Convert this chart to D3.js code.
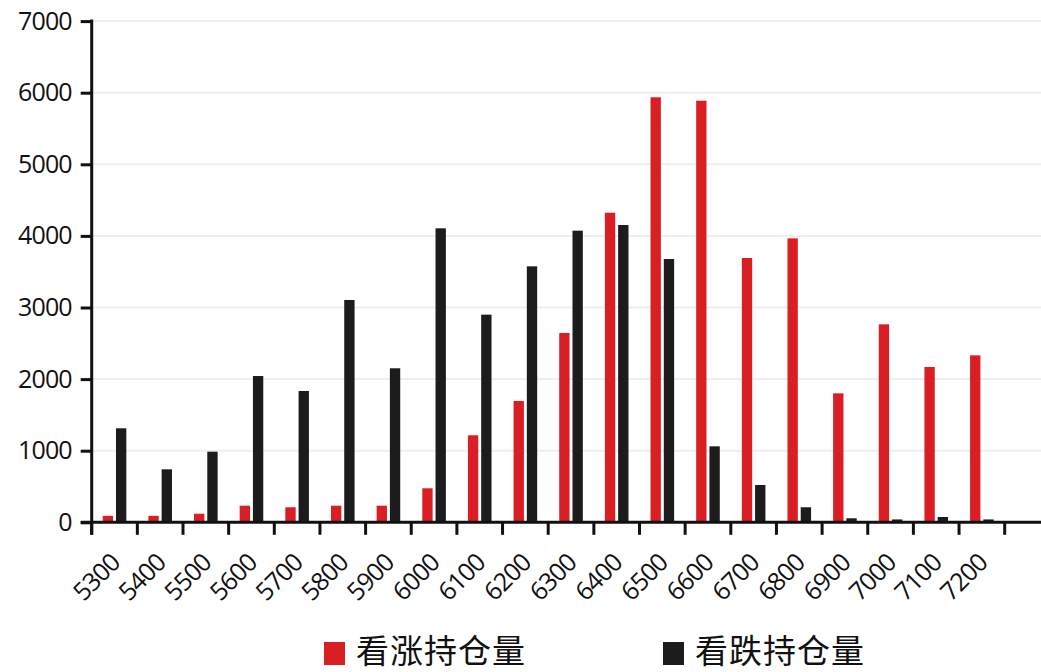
<!DOCTYPE html>
<html>
<head>
<meta charset="utf-8">
<script src="https://cdn.jsdelivr.net/npm/d3@7"></script>
<style>
  html, body { margin: 0; padding: 0; background: #fff; }
  svg { display: block; }
  text { font-family: "Open Sans", "Noto Sans", sans-serif; fill: #111; }
</style>
</head>
<body>
<svg id="chart" width="1041" height="672"></svg>
<script>
const categories = ["5300","5400","5500","5600","5700","5800","5900","6000","6100","6200","6300","6400","6500","6600","6700","6800","6900","7000","7100","7200"];
const callOI = [90, 90, 120, 232, 210, 232, 232, 475, 1215, 1694, 2644, 4324, 5936, 5888, 3691, 3966, 1801, 2765, 2169, 2332];
const putOI  = [1313, 740, 986, 2043, 1834, 3105, 2151, 4106, 2900, 3575, 4073, 4152, 3677, 1061, 521, 210, 56, 40, 74, 40];
const seriesNames = ["看涨持仓量", "看跌持仓量"];
const seriesColors = ["#da1f24", "#1c1c1e"];
const yTicks = [0, 1000, 2000, 3000, 4000, 5000, 6000, 7000];

const svg = d3.select("#chart");
const W = 1041;
const plotLeft = 91.7, plotRight = 1004.7, plotTop = 21.1, base = 522.3;

const x0 = d3.scaleBand().domain(categories).range([plotLeft, plotRight]).paddingInner(0).paddingOuter(0);
const x1 = d3.scaleBand().domain(seriesNames).range([-11.8, 11.8]).paddingInner(0.22);
const y = d3.scaleLinear().domain([0, 7000]).range([base, plotTop]);

// gridlines
svg.append("g").selectAll("line").data(yTicks.slice(1)).join("line")
  .attr("x1", plotLeft).attr("x2", W)
  .attr("y1", d => y(d)).attr("y2", d => y(d))
  .attr("stroke", "#eeeeee").attr("stroke-width", 2);

// bars
const rows = categories.map((c, i) => ({ c, vals: [callOI[i], putOI[i]] }));
const groups = svg.append("g").selectAll("g").data(rows).join("g")
  .attr("transform", d => `translate(${x0(d.c) + x0.bandwidth() / 2},0)`);
groups.selectAll("rect").data(d => d.vals.map((v, k) => ({ k, v }))).join("rect")
  .attr("x", d => x1(seriesNames[d.k]))
  .attr("width", x1.bandwidth())
  .attr("y", d => y(d.v))
  .attr("height", d => base - y(d.v))
  .attr("fill", d => seriesColors[d.k]);

// y axis
const yAxis = svg.append("g").attr("transform", `translate(${plotLeft},0)`)
  .call(d3.axisLeft(y).tickValues(yTicks).tickSize(11).tickSizeOuter(0).tickPadding(9).tickFormat(d3.format("d")));
yAxis.select(".domain").remove();
yAxis.selectAll(".tick line").attr("stroke", "#111").attr("stroke-width", 3);
yAxis.selectAll(".tick text").style("font-size", "25px").style("letter-spacing", "-0.9px").attr("fill", "#111");
svg.append("line").attr("x1", plotLeft).attr("x2", plotLeft).attr("y1", y(7000) - 1.5).attr("y2", base + 12.5)
  .attr("stroke", "#111").attr("stroke-width", 3);

// x axis
svg.append("line").attr("x1", plotLeft - 11).attr("x2", W).attr("y1", base).attr("y2", base)
  .attr("stroke", "#111").attr("stroke-width", 3);
const bounds = categories.map(c => x0(c)).concat([x0.range()[1]]);
svg.append("g").selectAll("line").data(bounds).join("line")
  .attr("x1", d => d).attr("x2", d => d).attr("y1", base).attr("y2", base + 12.5)
  .attr("stroke", "#111").attr("stroke-width", 3);
const xAxis = svg.append("g").attr("transform", `translate(0,${base})`)
  .call(d3.axisBottom(x0).tickSize(0).tickPadding(0));
xAxis.select(".domain").remove();
xAxis.selectAll(".tick text")
  .attr("y", 0).attr("dy", 0)
  .attr("text-anchor", "end")
  .attr("transform", "translate(7,42) rotate(-45)")
  .style("font-size", "25px").style("letter-spacing", "-0.9px").attr("fill", "#111");

// legend
const legend = svg.append("g");
const legX = [324, 663];
seriesNames.forEach((n, k) => {
  legend.append("rect").attr("x", legX[k]).attr("y", 642).attr("width", 21).attr("height", 23).attr("fill", seriesColors[k]);
  legend.append("text").attr("x", legX[k] + 32).attr("y", 662.5)
    .style("font-family", '"Noto Sans CJK SC", sans-serif').style("font-size", "33px")
    .style("letter-spacing", "1px").attr("fill", "#111").text(n);
});
</script>
</body>
</html>
